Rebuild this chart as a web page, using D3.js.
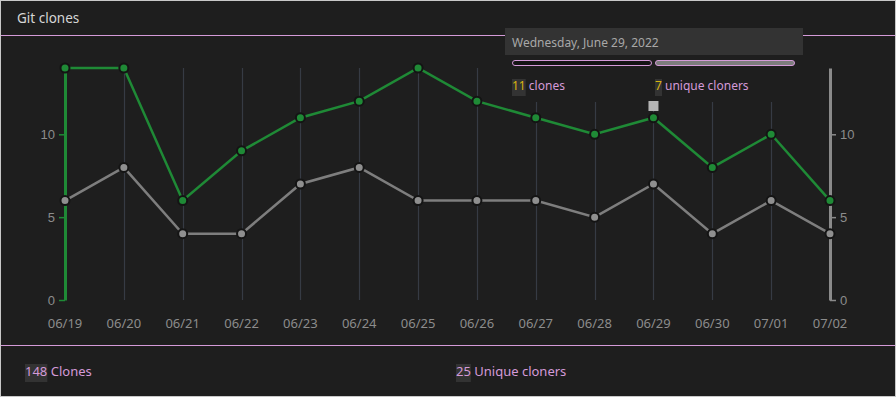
<!DOCTYPE html>
<html>
<head>
<meta charset="utf-8">
<script src="https://cdn.jsdelivr.net/npm/d3@7"></script>
<style>
  html, body { margin: 0; padding: 0; background: #c8c8c8; }
  svg { display: block; font-family: "Segoe UI", "Noto Sans", sans-serif; }
</style>
</head>
<body>
<svg width="896" height="397"></svg>
<script>
var dates = ["06/19", "06/20", "06/21", "06/22", "06/23", "06/24", "06/25", "06/26", "06/27", "06/28", "06/29", "06/30", "07/01", "07/02"];
var clones = [14, 14, 6, 9, 11, 12, 14, 12, 11, 10, 11, 8, 10, 6];
var uniques = [6, 8, 4, 4, 7, 8, 6, 6, 6, 5, 7, 4, 6, 4];
var yTicks = [0, 5, 10];
var totalClones = 148, totalUniques = 25;
var hoverIndex = 10;
var hoverLabel = "Wednesday, June 29, 2022";

var svg = d3.select("svg");
var W = 896, H = 397;
var pink = "#d49ad8", green = "#1f8a36", gray = "#8a8a8a";

// panel
svg.append("rect").attr("x", 1).attr("y", 1).attr("width", W - 2).attr("height", H - 2).attr("fill", "#1e1e1e");
svg.append("text").attr("x", 17).attr("y", 23).attr("fill", "#d6d6d6").attr("font-size", 13.5).text("Git clones");
svg.append("line").attr("x1", 1).attr("x2", W - 1).attr("y1", 35.5).attr("y2", 35.5).attr("stroke", pink);
svg.append("line").attr("x1", 1).attr("x2", W - 1).attr("y1", 345.5).attr("y2", 345.5).attr("stroke", pink);

var x = d3.scalePoint().domain(dates).range([65, 830]);
var y = d3.scaleLinear().domain([0, 14]).range([300, 68]);

var g = svg.append("g");

// vertical grid
g.selectAll(".grid").data(dates.slice(1, -1)).enter().append("line")
    .attr("x1", function(d) { return Math.round(x(d)) + 0.5; }).attr("x2", function(d) { return Math.round(x(d)) + 0.5; })
    .attr("y1", y(14)).attr("y2", y(0))
    .attr("stroke", "#363b44").attr("stroke-width", 1.2);

// x axis labels
g.selectAll(".xl").data(dates).enter().append("text")
    .attr("x", function(d) { return x(d); }).attr("y", 328)
    .attr("text-anchor", "middle").attr("fill", "#8c8c8c").attr("font-size", 13)
    .text(function(d) { return d; });

// left axis
var left = g.append("g").attr("transform", "translate(65,0)")
    .call(d3.axisLeft(y).tickValues(yTicks).tickSize(6).tickSizeOuter(0).tickPadding(4));
left.select(".domain").attr("stroke", green).attr("stroke-width", 3);
left.selectAll(".tick line").attr("stroke", green).attr("stroke-width", 1.5);
left.selectAll(".tick text").attr("fill", "#8c8c8c").attr("font-size", 13).attr("font-family", null);

// right axis
var right = g.append("g").attr("transform", "translate(830,0)")
    .call(d3.axisRight(y).tickValues(yTicks).tickSize(6).tickSizeOuter(0).tickPadding(4));
right.select(".domain").attr("stroke", gray).attr("stroke-width", 3);
right.selectAll(".tick line").attr("stroke", gray).attr("stroke-width", 1.5);
right.selectAll(".tick text").attr("fill", "#8c8c8c").attr("font-size", 13).attr("font-family", null);

function drawSeries(values, color, fill) {
  var line = d3.line().x(function(d, i) { return x(dates[i]); }).y(function(d) { return y(d); });
  g.append("path").datum(values).attr("d", line).attr("fill", "none")
      .attr("stroke", color).attr("stroke-width", 2.5);
  g.selectAll(null).data(values).enter().append("circle")
      .attr("cx", function(d, i) { return x(dates[i]); }).attr("cy", function(d) { return y(d); })
      .attr("r", 4.5).attr("fill", fill).attr("stroke", "#141414").attr("stroke-width", 2);
}
drawSeries(uniques, "#7e7e7e", "#8f8f8f");
drawSeries(clones, green, green);

// tooltip
var tip = svg.append("g");
tip.append("rect").attr("x", 505).attr("y", 28).attr("width", 298).attr("height", 74).attr("fill", "#1e1e1e");
tip.append("rect").attr("x", 505).attr("y", 28).attr("width", 298).attr("height", 27).attr("fill", "#333333");
tip.append("text").attr("x", 512).attr("y", 47).attr("fill", "#a8a8a8").attr("font-size", 12).text(hoverLabel);
tip.append("rect").attr("x", 512.5).attr("y", 60.5).attr("width", 139).attr("height", 5).attr("rx", 2.5)
    .attr("fill", "#141414").attr("stroke", pink);
tip.append("rect").attr("x", 655.5).attr("y", 60.5).attr("width", 139).attr("height", 5).attr("rx", 2.5)
    .attr("fill", "#7d7d7d").attr("stroke", pink);

function statText(parent, px, py, num, label, numColor, size) {
  var t = parent.append("text").attr("x", px).attr("y", py).attr("font-size", size);
  var n = t.append("tspan").attr("fill", numColor).text(num);
  t.append("tspan").attr("fill", pink).text(" " + label);
  var bb = n.node().getBBox();
  parent.insert("rect", function() { return t.node(); })
      .attr("x", bb.x).attr("y", py - size + 1).attr("width", bb.width).attr("height", size + 5)
      .attr("fill", "#333333");
}
statText(tip, 512, 90, clones[hoverIndex], "clones", "#d9b310", 12);
statText(tip, 655, 90, uniques[hoverIndex], "unique cloners", "#d9b310", 12);

// hover marker
svg.append("rect").attr("x", x(dates[hoverIndex]) - 5).attr("y", 101).attr("width", 10).attr("height", 10).attr("fill", "#b4b4b4");

// footer totals
statText(svg, 25, 376, totalClones, "Clones", pink, 13);
statText(svg, 456, 376, totalUniques, "Unique cloners", pink, 13);
</script>
</body>
</html>
